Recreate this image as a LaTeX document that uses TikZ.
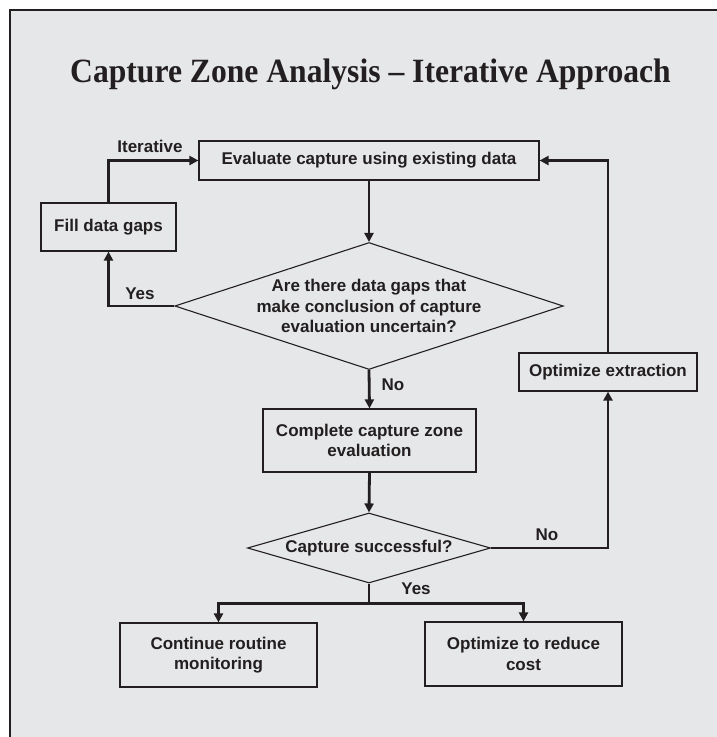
\documentclass[tikz,border=0pt]{standalone}
\usepackage{fontspec}
\setmainfont{Liberation Serif}
\newfontfamily\titlef[FakeStretch=0.93,Ligatures=TeX]{Liberation Serif}
\newfontfamily\arialf{Liberation Sans}
\usetikzlibrary{shapes.geometric,arrows.meta}
\definecolor{bgc}{HTML}{E6E7E9}
\definecolor{ink}{HTML}{231F20}
\tikzset{
  box/.style={draw=ink,line width=1.2pt,inner sep=0pt,align=center,font=\arialf\bfseries\fontsize{17}{20.5}\selectfont,text=ink},
  dia/.style={diamond,draw=ink,line width=1.1pt,inner sep=0pt,align=center,font=\arialf\bfseries\fontsize{17}{20.5}\selectfont,text=ink},
  conn/.style={draw=ink,line width=2.8pt},
  arr/.style={conn,-{Triangle[length=9pt,width=9pt]}},
  lbl/.style={font=\arialf\bfseries\fontsize{17}{18}\selectfont,text=ink,inner sep=0pt},
}
\begin{document}
\begin{tikzpicture}[x=1pt,y=-1pt]
\useasboundingbox (0,0) rectangle (716,737);
\path[fill=bgc,draw=ink,line width=2.8pt] (10,10) rectangle (745,765);
\node[font=\titlef\bfseries\fontsize{34}{38}\selectfont,text=ink,anchor=base,inner sep=0pt] (title) at (370.5,82) {Capture Zone Analysis – Iterative Approach};
\node[box,minimum width=340pt,minimum height=39pt] (eval) at (369,160.5) {Evaluate capture using existing data};
\node[box,minimum width=135pt,minimum height=48pt] (fill) at (108.5,227) {Fill data gaps};
\node[dia,shape aspect=3.06,minimum width=385pt,minimum height=126pt] (d1) at (369,306) {Are there data gaps that\\make conclusion of capture\\evaluation uncertain?};
\node[box,minimum width=178pt,minimum height=38pt] (optx) at (608,372) {Optimize extraction};
\node[box,minimum width=213pt,minimum height=63pt] (comp) at (369.5,440.5) {Complete capture zone\\evaluation};
\node[dia,shape aspect=3.47,minimum width=243pt,minimum height=70pt] (d2) at (369,548) {Capture successful?};
\node[box,minimum width=197pt,minimum height=64pt] (cont) at (218.5,655) {Continue routine\\monitoring};
\node[box,minimum width=197pt,minimum height=64pt] (optc) at (523.5,654) {Optimize to reduce\\cost};
\coordinate (br) at (369,603.5);
\draw[arr] (fill.north) |- (eval.west);
\draw[arr] (d1.west) -| (fill.south);
\draw[arr] (eval.south) -- (d1.north);
\draw[arr] (d1.south) -- (comp.north);
\draw[arr] (comp.south) -- (d2.north);
\draw[arr] (d2.east) -| (optx.south);
\draw[arr] (optx.north) |- (eval.east);
\draw[conn] (d2.south) -- (br);
\draw[arr] (br) -| (cont.north);
\draw[arr] (br) -| (optc.north);
\node[lbl] (l1) at (150,146) {Iterative};
\node[lbl] (l2) at (140,294) {Yes};
\node[lbl] (l3) at (393,385) {No};
\node[lbl] (l4) at (547,535) {No};
\node[lbl] (l5) at (416,589) {Yes};
\end{tikzpicture}
\end{document}
